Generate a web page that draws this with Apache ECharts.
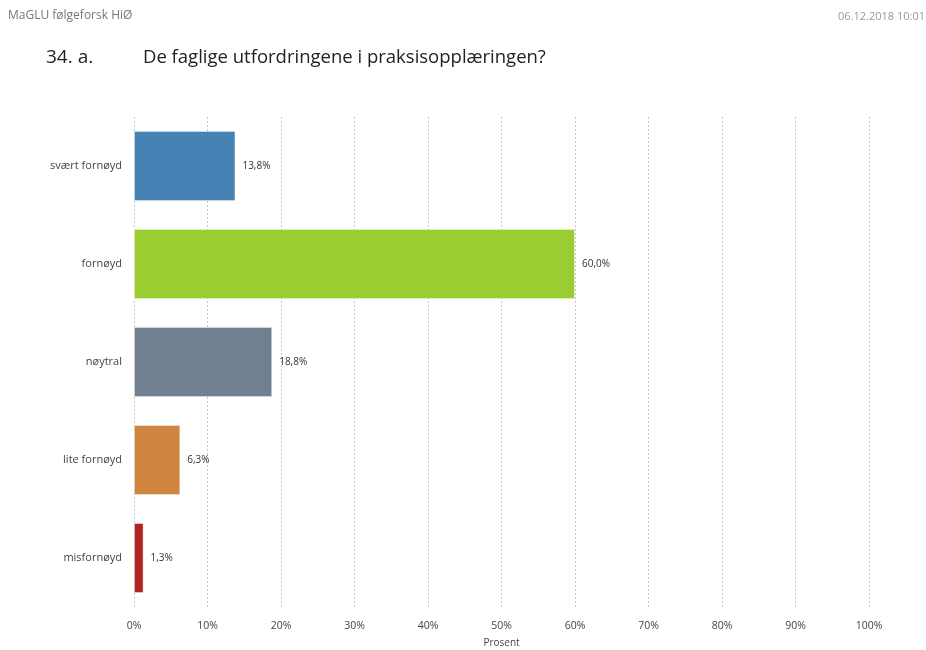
<!DOCTYPE html>
<html>
<head>
<meta charset="utf-8">
<script src="https://cdn.jsdelivr.net/npm/echarts@6/dist/echarts.min.js"></script>
<style>
  html, body { margin: 0; padding: 0; background: #fff; }
  #chart { width: 926px; height: 650px; }
</style>
</head>
<body>
<div id="chart"></div>
<script>
// Response categories, top to bottom
const categories = ['svært fornøyd', 'fornøyd', 'nøytral', 'lite fornøyd', 'misfornøyd'];
// Share of respondents, percent
const values = [13.8, 60.0, 18.8, 6.3, 1.3];
const barColors = ['#4682b4', '#9acd32', '#708090', '#cd853f', '#b22222'];
const xTicks = [0, 10, 20, 30, 40, 50, 60, 70, 80, 90, 100];

const fontFamily = '"Open Sans", "DejaVu Sans", sans-serif';
const fmt = v => v.toFixed(1).replace('.', ',') + '%';

const chart = echarts.init(document.getElementById('chart'), null, { renderer: 'canvas' });
chart.setOption({
  animation: false,
  backgroundColor: '#fff',
  textStyle: { fontFamily },
  graphic: [
    { type: 'text', left: 8, top: 10, style: { text: 'MaGLU følgeforsk HiØ', fontSize: 12, fill: '#777', fontFamily } },
    { type: 'text', right: 1, top: 11, style: { text: '06.12.2018 10:01', fontSize: 11, fill: '#999', fontFamily } },
    { type: 'text', left: 46, top: 48, style: { text: '34. a.', fontSize: 19, fill: '#222', fontFamily } },
    { type: 'text', left: 143, top: 48, style: { text: 'De faglige utfordringene i praksisopplæringen?', fontSize: 18.5, fill: '#222', fontFamily } }
  ],
  grid: { left: 134, right: 57, top: 117, bottom: 43, outerBoundsMode: 'none', containLabel: false },
  xAxis: {
    type: 'value',
    min: 0, max: 100, interval: 10,
    name: 'Prosent',
    nameLocation: 'middle',
    nameGap: 31,
    nameTextStyle: { fontSize: 10, color: '#444' },
    axisLine: { show: false },
    axisTick: { show: false },
    axisLabel: {
      fontSize: 10.5, color: '#444', margin: 14,
      formatter: v => xTicks.includes(v) ? v + '%' : ''
    },
    splitLine: { show: true, lineStyle: { color: '#c8c8c8', type: [2, 2], width: 1 } }
  },
  yAxis: {
    type: 'category',
    data: categories,
    inverse: true,
    axisLine: { show: false },
    axisTick: { show: false },
    axisLabel: { fontSize: 11, color: '#444', margin: 12 }
  },
  series: [{
    type: 'bar',
    data: values.map((v, i) => ({ value: v, itemStyle: { color: barColors[i] } })),
    barCategoryGap: '28.6%',
    itemStyle: { borderColor: 'rgba(255,255,255,0.35)', borderWidth: 1 },
    label: {
      show: true, position: 'right', distance: 7,
      fontSize: 10, color: '#333',
      formatter: p => fmt(p.value)
    }
  }]
});
</script>
</body>
</html>
